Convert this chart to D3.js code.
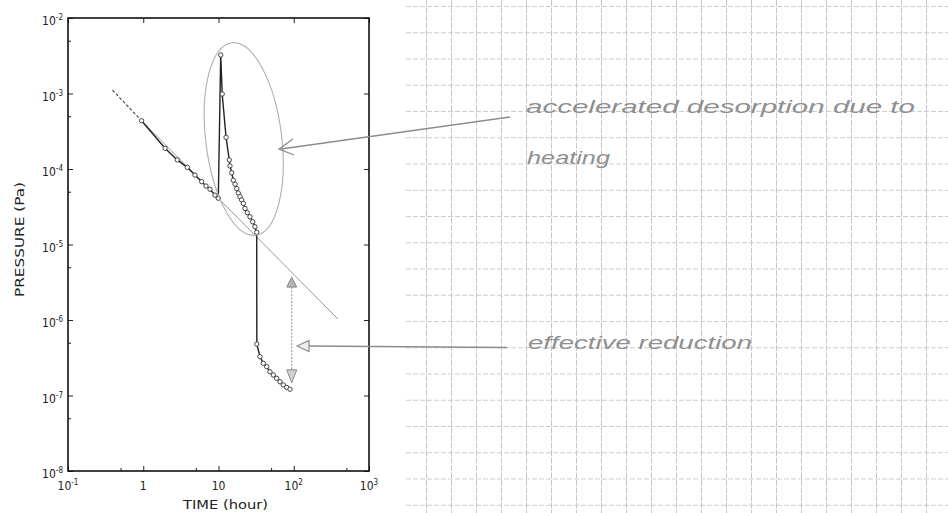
<!DOCTYPE html>
<html>
<head>
<meta charset="utf-8">
<script src="https://cdn.jsdelivr.net/npm/d3@7"></script>
<style>
  html, body { margin: 0; padding: 0; background: #fff; }
  svg { display: block; }
</style>
</head>
<body>
<svg id="chart" width="948" height="513"></svg>
<script>
// ---------------- data ----------------
// measured pressure before heating (time in hours, pressure in Pa)
const preTime     = [0.95, 1.95, 2.83, 3.85, 4.87, 5.98, 6.82, 7.71, 8.98, 9.94];
const prePressure = [4.36e-4, 1.88e-4, 1.32e-4, 1.05e-4, 8.3e-5, 6.8e-5, 5.95e-5, 5.4e-5, 4.5e-5, 4.1e-5];
// during heating (accelerated desorption)
const heatTime     = [10.7, 11.2, 12.6, 13.9, 14.2, 15.0, 15.7, 16.6, 17.5, 18.3, 19.3, 20.3, 21.4, 22.5, 24.1, 26.2, 28.5, 30.5, 32.2];
const heatPressure = [3.24e-3, 9.85e-4, 2.63e-4, 1.32e-4, 1.10e-4, 8.9e-5, 7.1e-5, 6.3e-5, 5.5e-5, 4.8e-5, 4.3e-5, 3.9e-5, 3.5e-5, 3.0e-5, 2.64e-5, 2.33e-5, 2.0e-5, 1.72e-5, 1.45e-5];
// after heating
const postTime     = [32.3, 35.6, 39.4, 43.7, 48.3, 53.5, 59.3, 65.7, 72.6, 80.5, 89.1];
const postPressure = [4.8e-7, 3.27e-7, 2.67e-7, 2.41e-7, 2.06e-7, 1.87e-7, 1.69e-7, 1.52e-7, 1.38e-7, 1.28e-7, 1.21e-7];
// extrapolated 1/t trend without heating
const trendTime     = [0.39, 0.95, 387];
const trendPressure = [1.11e-3, 4.36e-4, 1.03e-6];
// "effective reduction" double arrow (time, upper and lower pressure)
const reductionTime = 94;
const reductionPressure = [3.7e-6, 1.47e-7];

// axes
const xTickValues = [0.1, 1, 10, 100, 1000];
const xTickLabels = [["10", "-1"], ["1", ""], ["10", ""], ["10", "2"], ["10", "3"]];
const xMinorTicks = [0.5, 5, 50, 500];
const yTickValues = [1e-8, 1e-7, 1e-6, 1e-5, 1e-4, 1e-3, 1e-2];
const yTickLabels = [["10", "-8"], ["10", "-7"], ["10", "-6"], ["10", "-5"], ["10", "-4"], ["10", "-3"], ["10", "-2"]];
const yMinorTicks = [5e-8, 5e-7, 5e-6, 5e-5, 5e-4, 5e-3];
const xTitle = "TIME  (hour)";
const yTitle = "PRESSURE  (Pa)";

// handwritten notes
const note1Lines = ["accelerated  desorption  due to", "heating"];
const note2Text = "effective  reduction";

// ---------------- drawing ----------------
const svg = d3.select("#chart");
const W = 948, H = 513;
const plot = { left: 68, top: 18, right: 369, bottom: 471 };

const x = d3.scaleLog().domain([0.1, 1000]).range([plot.left, plot.right]);
const y = d3.scaleLog().domain([1e-8, 1e-2]).range([plot.bottom, plot.top]);

svg.append("rect").attr("width", W).attr("height", H).attr("fill", "#fff");

// ---- graph paper on the right ----
const paper = svg.append("g").attr("class", "paper");
const paperLeft = 406;
const vLines = d3.range(426, W + 1, 25);
const hLines = d3.range(6.5, H, 26.25);
paper.selectAll("line.v").data(vLines).join("line")
  .attr("class", "v")
  .attr("x1", d => d + 0.5).attr("x2", d => d + 0.5)
  .attr("y1", 0).attr("y2", H)
  .attr("stroke", "#c6c6c6").attr("stroke-width", 1)
  .attr("stroke-dasharray", "6,1.5");
paper.selectAll("line.h").data(hLines).join("line")
  .attr("class", "h")
  .attr("x1", paperLeft).attr("x2", W)
  .attr("y1", d => d).attr("y2", d => d)
  .attr("stroke", "#cdcdcd").attr("stroke-width", 1)
  .attr("stroke-dasharray", "5,2");

// ---- axes box ----
const axisFont = "'DejaVu Sans Condensed', 'DejaVu Sans', sans-serif";

function styleAxis(g) {
  g.select(".domain").remove();
  g.selectAll(".tick line").attr("stroke", "#222").attr("stroke-width", 1);
  g.selectAll(".tick text").remove();
}

svg.append("g").attr("transform", `translate(0,${plot.bottom})`)
  .call(d3.axisBottom(x).tickValues(xTickValues).tickSize(-5)).call(styleAxis);
svg.append("g").attr("transform", `translate(0,${plot.bottom})`)
  .call(d3.axisBottom(x).tickValues(xMinorTicks).tickSize(-3)).call(styleAxis);
svg.append("g").attr("transform", `translate(0,${plot.top})`)
  .call(d3.axisTop(x).tickValues(xTickValues).tickSize(-5)).call(styleAxis);
svg.append("g").attr("transform", `translate(${plot.left},0)`)
  .call(d3.axisLeft(y).tickValues(yTickValues).tickSize(-5)).call(styleAxis);
svg.append("g").attr("transform", `translate(${plot.left},0)`)
  .call(d3.axisLeft(y).tickValues(yMinorTicks).tickSize(-3)).call(styleAxis);
svg.append("g").attr("transform", `translate(${plot.right},0)`)
  .call(d3.axisRight(y).tickValues(yTickValues).tickSize(-5)).call(styleAxis);

svg.append("rect")
  .attr("x", plot.left).attr("y", plot.top)
  .attr("width", plot.right - plot.left).attr("height", plot.bottom - plot.top)
  .attr("fill", "none").attr("stroke", "#111").attr("stroke-width", 1.6);

// tick labels
const xl = svg.append("g").attr("font-family", axisFont).attr("fill", "#222");
xTickValues.forEach((v, i) => {
  const t = xl.append("text")
    .attr("x", x(v)).attr("y", plot.bottom + 19)
    .attr("text-anchor", "middle").attr("font-size", 12);
  t.append("tspan").text(xTickLabels[i][0]);
  if (xTickLabels[i][1]) {
    t.append("tspan").attr("dy", -5).attr("font-size", 8).text(xTickLabels[i][1]);
  }
});
const yl = svg.append("g").attr("font-family", axisFont).attr("fill", "#222");
yTickValues.forEach((v, i) => {
  const t = yl.append("text")
    .attr("x", plot.left - 5).attr("y", y(v) + 7)
    .attr("text-anchor", "end").attr("font-size", 12);
  t.append("tspan").text(yTickLabels[i][0]);
  t.append("tspan").attr("dy", -5).attr("font-size", 8).text(yTickLabels[i][1]);
});

// axis titles
svg.append("text")
  .attr("x", 183).attr("y", 509)
  .attr("font-family", axisFont).attr("font-size", 12).attr("fill", "#222")
  .attr("textLength", 85).attr("lengthAdjust", "spacingAndGlyphs")
  .text(xTitle);
svg.append("text")
  .attr("transform", `translate(24,${297}) rotate(-90)`)
  .attr("font-family", axisFont).attr("font-size", 12).attr("fill", "#222")
  .attr("textLength", 115).attr("lengthAdjust", "spacingAndGlyphs")
  .text(yTitle);

// ---- trend (1/t extrapolation) ----
const trendLine = d3.line().x(d => x(d[0])).y(d => y(d[1]));
const trendPts = trendTime.map((t, i) => [t, trendPressure[i]]);
svg.append("path")
  .attr("d", trendLine(trendPts.slice(0, 2)))
  .attr("fill", "none").attr("stroke", "#444").attr("stroke-width", 1.1)
  .attr("stroke-dasharray", "3,2");
svg.append("path")
  .attr("d", trendLine(trendPts.slice(1)))
  .attr("fill", "none").attr("stroke", "#9a9a9a").attr("stroke-width", 1);

// ---- measured curve ----
const allTime = preTime.concat(heatTime, postTime);
const allPressure = prePressure.concat(heatPressure, postPressure);
const pts = allTime.map((t, i) => [t, allPressure[i]]);
svg.append("path")
  .attr("d", trendLine(pts))
  .attr("fill", "none").attr("stroke", "#222").attr("stroke-width", 1.4);
svg.selectAll("circle.pt").data(pts).join("circle")
  .attr("class", "pt")
  .attr("cx", d => x(d[0])).attr("cy", d => y(d[1]))
  .attr("r", 2.2)
  .attr("fill", "#fff").attr("stroke", "#333").attr("stroke-width", 0.9);

// ---- annotations ----
const pencil = "#8c8c8c";
// ellipse around the heating peak
const ellCx = x(Math.sqrt(heatTime[0] * heatTime[heatTime.length - 1])) + 5;
svg.append("ellipse")
  .attr("transform", `translate(${ellCx},139) rotate(-7)`)
  .attr("rx", 38).attr("ry", 97)
  .attr("fill", "none").attr("stroke", "#b0b0b0").attr("stroke-width", 1.1);

// arrow to ellipse
svg.append("line")
  .attr("x1", 510).attr("y1", 117).attr("x2", 281).attr("y2", 149)
  .attr("stroke", pencil).attr("stroke-width", 1.3);
svg.append("path")
  .attr("d", "M293,139 L279,149 L294,155")
  .attr("fill", "none").attr("stroke", pencil).attr("stroke-width", 1.3);

// effective reduction double arrow
const rx = x(reductionTime);
const rTop = y(reductionPressure[0]), rBot = y(reductionPressure[1]);
svg.append("line")
  .attr("x1", rx).attr("x2", rx).attr("y1", rTop + 10).attr("y2", rBot - 12)
  .attr("stroke", "#a0a0a0").attr("stroke-width", 1.2).attr("stroke-dasharray", "2,1.5");
svg.append("path")
  .attr("d", `M${rx},${rTop} L${rx - 5},${rTop + 10} L${rx + 5},${rTop + 10} Z`)
  .attr("fill", "#b5b5b5").attr("stroke", "#8a8a8a").attr("stroke-width", 1);
svg.append("path")
  .attr("d", `M${rx},${rBot} L${rx - 5},${rBot - 13} L${rx + 5},${rBot - 13} Z`)
  .attr("fill", "#d0d0d0").attr("stroke", "#8a8a8a").attr("stroke-width", 1);

// arrow to the double arrow
svg.append("line")
  .attr("x1", 507).attr("y1", 347.5).attr("x2", 308).attr("y2", 346)
  .attr("stroke", pencil).attr("stroke-width", 1.3);
svg.append("path")
  .attr("d", "M297,346 L309,340.5 L309,351.5 Z")
  .attr("fill", "#eee").attr("stroke", pencil).attr("stroke-width", 1.2);

// handwritten notes
const handFont = "'Liberation Sans', 'DejaVu Sans', sans-serif";
svg.append("text")
  .attr("x", 526).attr("y", 113)
  .attr("font-family", handFont).attr("font-style", "italic").attr("font-size", 19)
  .attr("fill", "#8f8f8f")
  .attr("textLength", 389).attr("lengthAdjust", "spacingAndGlyphs")
  .text(note1Lines[0]);
svg.append("text")
  .attr("x", 527).attr("y", 164)
  .attr("font-family", handFont).attr("font-style", "italic").attr("font-size", 19)
  .attr("fill", "#8f8f8f")
  .attr("textLength", 83).attr("lengthAdjust", "spacingAndGlyphs")
  .text(note1Lines[1]);
svg.append("text")
  .attr("x", 528).attr("y", 349)
  .attr("font-family", handFont).attr("font-style", "italic").attr("font-size", 19)
  .attr("fill", "#8f8f8f")
  .attr("textLength", 224).attr("lengthAdjust", "spacingAndGlyphs")
  .text(note2Text);
</script>
</body>
</html>
